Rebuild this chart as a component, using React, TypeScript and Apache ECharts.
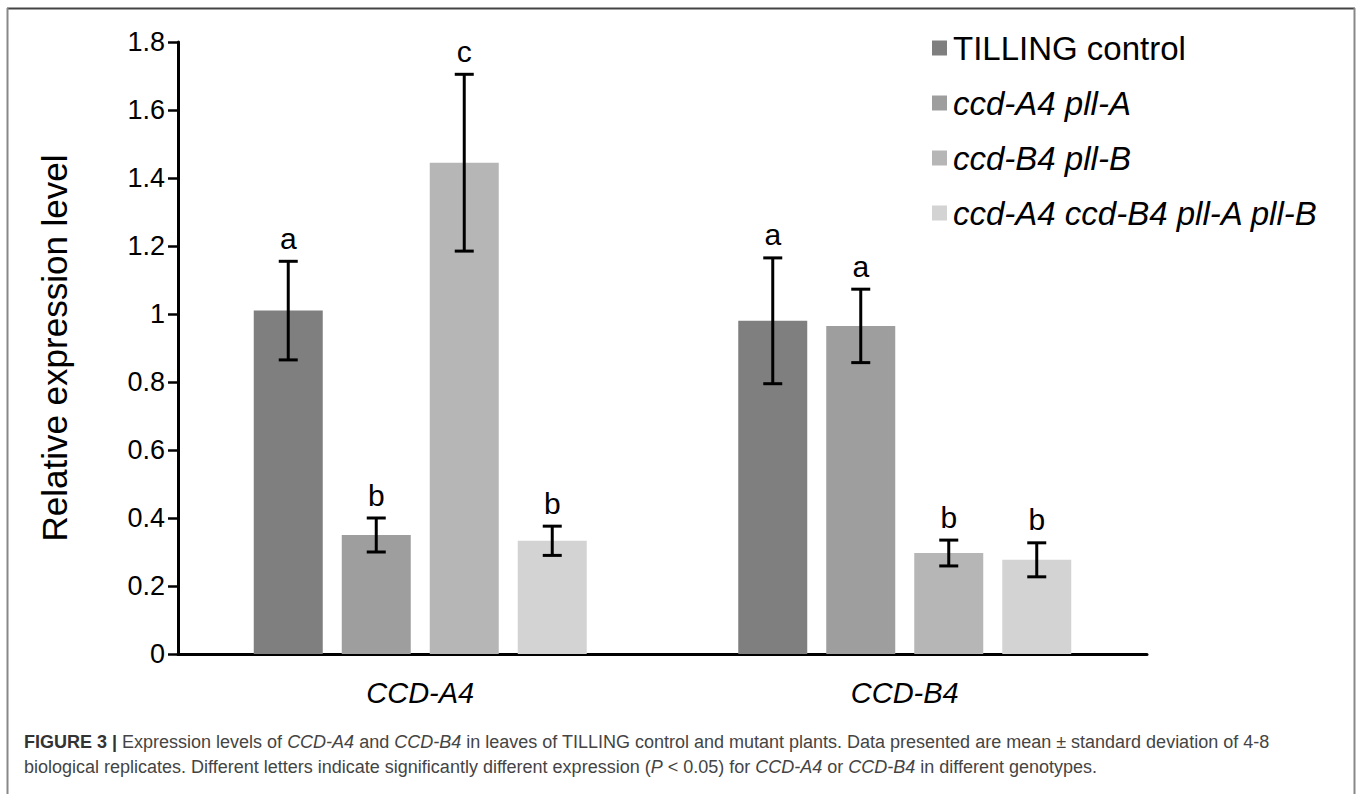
import React, { useEffect, useRef } from "react";
import * as echarts from "echarts";

const categories = ["CCD-A4", "CCD-B4"];
const seriesNames = ["TILLING control", "ccd-A4 pll-A", "ccd-B4 pll-B", "ccd-A4 ccd-B4 pll-A pll-B"];
const italicSeries = [false, true, true, true];
const controlMeans = [1.01, 0.98];
const pllAMeans = [0.35, 0.965];
const pllBMeans = [1.445, 0.297];
const doubleMeans = [0.333, 0.277];
const controlSd = [0.145, 0.185];
const pllASd = [0.05, 0.108];
const pllBSd = [0.26, 0.038];
const doubleSd = [0.043, 0.05];
const controlLetters = ["a", "a"];
const pllALetters = ["b", "a"];
const pllBLetters = ["c", "b"];
const doubleLetters = ["b", "b"];
const barColors = ["#7f7f7f", "#9e9e9e", "#b6b6b6", "#d3d3d3"];

const means = [controlMeans, pllAMeans, pllBMeans, doubleMeans];
const sds = [controlSd, pllASd, pllBSd, doubleSd];
const letters = [controlLetters, pllALetters, pllBLetters, doubleLetters];

const FONT = "'Liberation Sans', Arial, Helvetica, sans-serif";
const BAR_W = 69;
const GAP_PX = 19;

export default function App() {
  const ref = useRef<HTMLDivElement>(null);
  useEffect(() => {
    if (!ref.current) return;
    const chart = echarts.init(ref.current, null, { renderer: "svg" });
    const barSeries = seriesNames.map((name, i) => ({
      name,
      type: "bar",
      data: means[i],
      barWidth: BAR_W,
      barGap: `${(GAP_PX / BAR_W) * 100}%`,
      itemStyle: { color: barColors[i] },
      z: 2,
    }));
    const errSeries = seriesNames.map((name, i) => ({
      name: "err-" + name,
      type: "custom",
      z: 5,
      data: categories.map((_, j) => [j, means[i][j], sds[i][j]]),
      renderItem: (params: any, api: any) => {
        const cat = api.value(0);
        const m = api.value(1);
        const sd = api.value(2);
        const offset = (i - 1.5) * (BAR_W + GAP_PX);
        const x = api.coord([cat, m])[0] + offset;
        const top = api.coord([cat, m + sd])[1];
        const bot = api.coord([cat, m - sd])[1];
        const half = 9.5;
        const ls = { stroke: "#000", lineWidth: 3 };
        return {
          type: "group",
          children: [
            { type: "line", shape: { x1: x, y1: top, x2: x, y2: bot }, style: ls },
            { type: "line", shape: { x1: x - half, y1: top, x2: x + half, y2: top }, style: ls },
            { type: "line", shape: { x1: x - half, y1: bot, x2: x + half, y2: bot }, style: ls },
            {
              type: "text",
              style: {
                text: letters[i][params.dataIndex],
                x,
                y: top - 8,
                align: "center",
                verticalAlign: "bottom",
                fontSize: 30,
                fontFamily: FONT,
                fill: "#000",
              },
            },
          ],
        };
      },
    }));

    const captionLine1 =
      "{b|FIGURE 3 |} Expression levels of {i|CCD-A4} and {i|CCD-B4} in leaves of TILLING control and mutant plants. Data presented are mean ± standard deviation of 4-8";
    const captionLine2 =
      "biological replicates. Different letters indicate significantly different expression ({i|P} < 0.05) for {i|CCD-A4} or {i|CCD-B4} in different genotypes.";
    const capRich = {
      b: { fontWeight: "bold", fontSize: 18, fontFamily: FONT, fill: "#333" },
      i: { fontStyle: "italic", fontSize: 18, fontFamily: FONT, fill: "#444" },
    };

    chart.setOption({
      animation: false,
      backgroundColor: "#fff",
      grid: { left: 178, right: 210, top: 42, bottom: 140, containLabel: false },
      legend: {
        data: seriesNames,
        orient: "vertical",
        left: 927,
        top: 23,
        itemWidth: 15,
        itemHeight: 15,
        itemGap: 15,
        icon: "rect",
        textStyle: {
          fontSize: 33,
          fontFamily: FONT,
          color: "#000",
          lineHeight: 40,
          padding: [0, 0, 0, 1],
          rich: {
            i: { fontStyle: "italic", fontSize: 33, fontFamily: FONT, color: "#000", lineHeight: 40 },
          },
        },
        formatter: (name: string) => {
          const idx = seriesNames.indexOf(name);
          return italicSeries[idx] ? `{i|${name}}` : name;
        },
      },
      xAxis: {
        type: "category",
        data: categories,
        axisLine: { lineStyle: { color: "#000", width: 3 } },
        axisTick: { show: false },
        axisLabel: {
          fontSize: 29,
          fontStyle: "italic",
          fontFamily: FONT,
          color: "#000",
          margin: 24,
        },
      },
      yAxis: {
        type: "value",
        min: 0,
        max: 1.8,
        interval: 0.2,
        name: "Relative expression level",
        nameLocation: "middle",
        nameGap: 106,
        nameTextStyle: { fontSize: 35, fontFamily: FONT, color: "#000" },
        splitLine: { show: false },
        axisLine: { show: true, lineStyle: { color: "#000", width: 3 } },
        axisTick: { show: true, length: 10, lineStyle: { color: "#000", width: 2.5 } },
        axisLabel: {
          fontSize: 27,
          fontFamily: FONT,
          color: "#000",
          margin: 13,
          formatter: (v: number) => String(Number(v.toFixed(1))),
        },
      },
      graphic: [
        { type: "line", shape: { x1: 7, y1: 8.5, x2: 1355, y2: 8.5 }, style: { stroke: "#444", lineWidth: 2 } },
        { type: "line", shape: { x1: 7.5, y1: 8, x2: 7.5, y2: 794 }, style: { stroke: "#888", lineWidth: 2 } },
        { type: "line", shape: { x1: 1354.5, y1: 8, x2: 1354.5, y2: 794 }, style: { stroke: "#888", lineWidth: 2 } },
        {
          type: "text",
          left: 24,
          top: 733,
          style: { text: captionLine1, fontSize: 18, fontFamily: FONT, fill: "#444", rich: capRich },
        },
        {
          type: "text",
          left: 24,
          top: 758,
          style: { text: captionLine2, fontSize: 18, fontFamily: FONT, fill: "#444", rich: capRich },
        },
      ],
      series: [...barSeries, ...errSeries],
    });
    return () => chart.dispose();
  }, []);
  return (
    <div
      ref={ref}
      style={{ position: "absolute", left: 0, top: 0, width: 1357, height: 794, background: "#fff" }}
    />
  );
}
